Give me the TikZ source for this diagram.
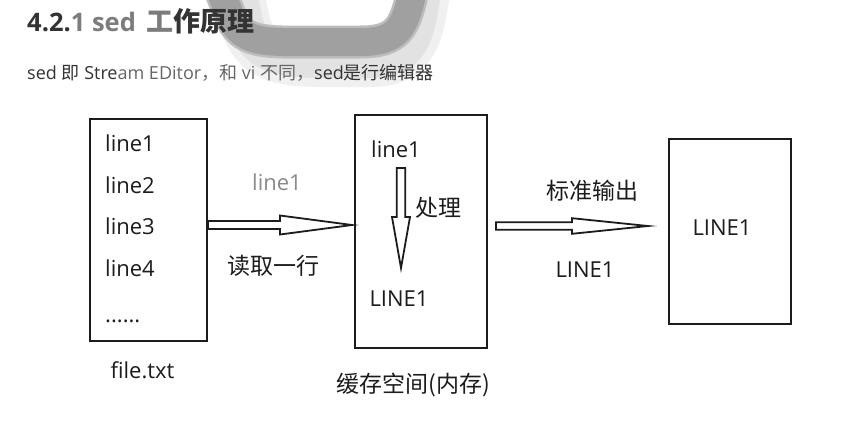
\documentclass[tikz,border=0pt]{standalone}
\usepackage{fontspec}
\setmainfont{Open Sans}
\newfontfamily\cjk{Noto Sans CJK SC}
\usetikzlibrary{calc}
\definecolor{wm}{HTML}{A0A0A0}
\definecolor{wmedge}{HTML}{BDBDBD}
\definecolor{wmlight}{HTML}{E2E2E2}
\definecolor{wmhalo}{HTML}{F0F0F0}
\definecolor{ink}{HTML}{1C1C1C}
\definecolor{hd}{HTML}{333333}
\definecolor{hdgray}{HTML}{7C7C7C}
\definecolor{subgray}{HTML}{666666}
\definecolor{lblgray}{HTML}{8A8A8A}
\newcommand\hbarrow[5]{% tail, tip, head length, body half, head half
  ($(#1)+(0,-#4)$) -- ($(#2)+(-#3,-#4)$) -- ($(#2)+(-#3,-#5)$) -- (#2)
  -- ($(#2)+(-#3,#5)$) -- ($(#2)+(-#3,#4)$) -- ($(#1)+(0,#4)$) -- cycle}
\newcommand\vbarrow[5]{% tail, tip, head length, body half, head half
  ($(#1)+(-#4,0)$) -- ($(#2)+(-#4,-#3)$) -- ($(#2)+(-#5,-#3)$) -- (#2)
  -- ($(#2)+(#5,-#3)$) -- ($(#2)+(#4,-#3)$) -- ($(#1)+(#4,0)$) -- cycle}
\begin{document}
\begin{tikzpicture}[x=1pt,y=-1pt,
  box/.style={draw=ink, line width=2pt, fill=white, inner sep=0pt},
  txt/.style={inner sep=0pt, text=ink, font=\fontsize{22}{26}\selectfont},
  ctxt/.style={inner sep=0pt, text=ink, font=\cjk\fontsize{23}{27}\selectfont},
  barrow/.style={draw=ink, line width=1.8pt, fill=white, line join=miter},
  wmpath/.style={line cap=round, line join=round}]
\useasboundingbox[fill=white] (0,0) rectangle (846,429);
% watermark shadow
\draw[wmpath, wmhalo, line width=50pt]
  (236,-20) -- (246,26) .. controls (258,60) and (285,62) .. (330,62)
  -- (370,62) .. controls (410,62) and (420,42) .. (426,-20);
\draw[wmpath, wmlight, line width=36pt]
  (236,-20) -- (246,26) .. controls (258,58) and (285,60) .. (330,60)
  -- (370,60) .. controls (410,60) and (418,40) .. (424,-20);
% watermark band
\draw[wmedge, line width=33pt]
  (220,-10) -- (232,20) .. controls (245,45) and (270,42) .. (320,42)
  -- (360,42) .. controls (398,42) and (405,28) .. (413,-10);
\draw[wm, line width=28pt]
  (220,-10) -- (232,20) .. controls (245,45) and (270,42) .. (320,42)
  -- (360,42) .. controls (398,42) and (405,28) .. (413,-10);
% heading
\node[anchor=base west, inner sep=0pt] (title) at (27,31)
  {\fontsize{25.5}{30}\selectfont\bfseries\color{hd}4.2.\color{hdgray}1 sed\hspace{4pt}
   {\cjk\fontsize{27}{31}\selectfont 工}\color{hd}{\cjk\fontsize{27}{31}\selectfont 作原理}};
\node[anchor=base west, inner sep=0pt] (sub) at (27,79)
  {\fontsize{18}{22}\selectfont\color{hd}sed {\cjk 即} Stre\color{subgray}am EDitor{\cjk ，和} vi {\cjk 不同，}\color{hd}sed{\cjk 是行编辑器}};
% boxes
\node[box, minimum width=117pt, minimum height=222pt] (box1) at (148.5,230) {};
\node[box, minimum width=132pt, minimum height=233pt] (box2) at (421,231.5) {};
\node[box, minimum width=122pt, minimum height=185pt] (box3) at (730,231.5) {};
% box1 content
\node[txt, anchor=west] (f1) at (105,143) {line1};
\node[txt, anchor=west] (f2) at (105,185) {line2};
\node[txt, anchor=west] (f3) at (105,226) {line3};
\node[txt, anchor=west] (f4) at (105,268) {line4};
\node[txt, anchor=base west] (f5) at (105,322) {......};
\node[txt] (fname) at (142.5,370) {file.txt};
% arrow 1
\coordinate (a1tip) at (352,225);
\coordinate (a1tail) at (box1.east |- a1tip);
\draw[barrow] \hbarrow{a1tail}{a1tip}{72}{4}{9.5};
\node[txt, text=lblgray] (a1top) at (277,182) {line1};
\node[ctxt] (a1bot) at (273.5,266) {读取一行};
% box2 content
\node[txt] (b1) at (396,149) {line1};
\coordinate (dtop) at (401,168);
\coordinate (dtip) at (401,268);
\draw[barrow] \vbarrow{dtop}{dtip}{51}{4.2}{9};
\node[ctxt] (proc) at (438.5,208) {处理};
\node[txt] (b2) at (399,299) {LINE1};
\node[ctxt] (bname) at (413.5,385) {缓存空间(内存)};
% arrow 2
\coordinate (a2tip) at (648,226);
\coordinate (a2tail) at (496,226);
\draw[barrow] \hbarrow{a2tail}{a2tip}{76}{3.7}{7.8};
\node[ctxt] (a2top) at (592.5,191) {标准输出};
\node[txt] (a2bot) at (585,270) {LINE1};
% box3 content
\node[txt] (c1) at (722,228) {LINE1};
\end{tikzpicture}
\end{document}
